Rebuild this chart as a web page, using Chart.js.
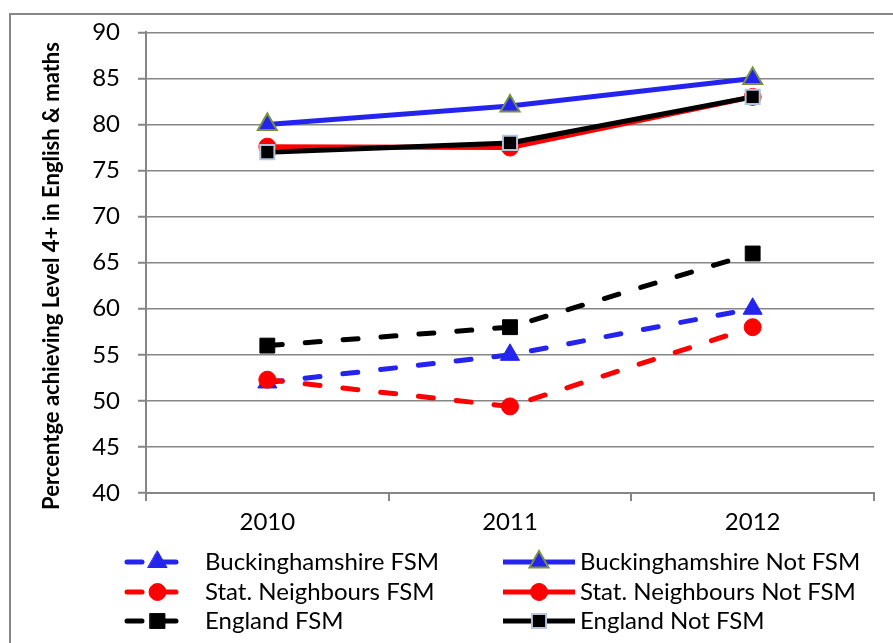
<!DOCTYPE html>
<html>
<head>
<meta charset="utf-8">
<script src="https://cdn.jsdelivr.net/npm/chart.js@4.4.0/dist/chart.umd.min.js"></script>
<style>
  html, body { margin: 0; padding: 0; background: #fff; }
  #wrap { width: 893px; height: 643px; }
</style>
</head>
<body>
<div id="wrap"><canvas id="chart" width="893" height="643"></canvas></div>
<script>
const years = ['2010', '2011', '2012'];
const bucksFsm = [52, 55, 60];
const bucksNotFsm = [80, 82, 85];
const statFsm = [52.3, 49.4, 58];
const statNotFsm = [77.6, 77.5, 83];
const englandFsm = [56, 58, 66];
const englandNotFsm = [77, 78, 83];
const yMin = 40, yMax = 90, yStep = 5;
const yTitle = 'Percentge achieving Level 4+ in English & maths';

const FONT = 'Lato';
const GREY = '#868686';
const BLUE = '#2424EE';
const RED = '#FF0000';
const BLACK = '#000000';

// one line series, dashed for the FSM groups
const series = (label, data, color, dashed, pointStyle, radius, ring, order) => ({
  label, data, order,
  borderColor: color,
  backgroundColor: color,
  borderWidth: 5,
  borderDash: dashed ? [15, 23] : [],
  borderCapStyle: dashed ? 'round' : 'butt',
  borderJoinStyle: 'round',
  tension: 0,
  pointStyle,
  pointRadius: radius,
  pointHoverRadius: radius,
  pointBackgroundColor: color,
  pointBorderColor: ring || color,
  pointBorderWidth: ring ? 2 : 1,
  clip: false
});

const datasets = [
  series('Buckinghamshire FSM', bucksFsm, BLUE, true, 'triangle', 11, null, 6),
  series('Buckinghamshire Not FSM', bucksNotFsm, BLUE, false, 'triangle', 11, '#77933C', 5),
  series('Stat. Neighbours FSM', statFsm, RED, true, 'circle', 8.5, null, 4),
  series('Stat. Neighbours Not FSM', statNotFsm, RED, false, 'circle', 8.5, null, 3),
  series('England FSM', englandFsm, BLACK, true, 'rect', 10.5, null, 2),
  series('England Not FSM', englandNotFsm, BLACK, false, 'rect', 10, '#B4C4DC', 1)
];

// frame, rotated axis title and the two-column legend
const decor = {
  id: 'decor',
  beforeDraw(chart) {
    const ctx = chart.ctx;
    ctx.save();
    ctx.strokeStyle = GREY;
    ctx.lineWidth = 2;
    ctx.beginPath();
    ctx.moveTo(10, 643);
    ctx.lineTo(10, 14);
    ctx.lineTo(893, 14);
    ctx.stroke();
    ctx.restore();
  },
  afterDraw(chart) {
    const ctx = chart.ctx;
    ctx.save();
    ctx.translate(52, 276);
    ctx.rotate(-Math.PI / 2);
    ctx.fillStyle = '#000';
    ctx.font = 'bold 22px ' + FONT;
    ctx.textAlign = 'center';
    ctx.textBaseline = 'middle';
    ctx.fillText(yTitle, 0, 0);
    ctx.restore();

    const cols = [{ x: 127, w: 61, tx: 205 }, { x: 503, w: 72, tx: 580 }];
    const rows = [562, 592, 621];
    chart.data.datasets.forEach((ds, i) => {
      const c = cols[i % 2], y = rows[Math.floor(i / 2)];
      ctx.save();
      ctx.strokeStyle = ds.borderColor;
      ctx.lineWidth = ds.borderWidth;
      ctx.lineCap = ds.borderCapStyle;
      ctx.setLineDash(ds.borderDash.length ? [15, 19] : []);
      ctx.beginPath();
      ctx.moveTo(c.x, y);
      ctx.lineTo(c.x + c.w, y);
      ctx.stroke();
      ctx.setLineDash([]);
      ctx.fillStyle = ds.pointBackgroundColor;
      ctx.strokeStyle = ds.pointBorderColor;
      ctx.lineWidth = ds.pointBorderWidth;
      Chart.helpers.drawPoint(ctx, {
        pointStyle: ds.pointStyle, radius: ds.pointRadius,
        borderWidth: ds.pointBorderWidth, rotation: 0
      }, c.x + c.w / 2, y);
      ctx.fillStyle = '#000';
      ctx.font = '24px ' + FONT;
      ctx.textBaseline = 'middle';
      ctx.textAlign = 'left';
      ctx.fillText(ds.label, c.tx, y);
      ctx.restore();
    });
  }
};

function draw() {
  new Chart(document.getElementById('chart'), {
    type: 'line',
    data: { labels: years, datasets },
    options: {
      responsive: false,
      animation: false,
      devicePixelRatio: 1,
      layout: { padding: { top: 32, right: 19, bottom: 100, left: 0 } },
      plugins: { legend: { display: false }, tooltip: { enabled: false } },
      scales: {
        x: {
          offset: true,
          grid: { offset: true, drawOnChartArea: false, drawTicks: true, tickLength: 8, color: GREY, lineWidth: 2 },
          border: { color: GREY, width: 2 },
          ticks: { color: '#000', font: { family: FONT, size: 24 }, padding: 7 },
          afterFit: s => { s.height = 50; }
        },
        y: {
          min: yMin,
          max: yMax,
          ticks: { stepSize: yStep, color: '#000', font: { family: FONT, size: 24 }, padding: 18 },
          grid: { color: GREY, lineWidth: 1.5, borderDash: [2, 2.5], tickLength: 8, tickColor: GREY, tickWidth: 2, tickBorderDash: [] },
          border: { color: GREY, width: 2 },
          afterFit: s => { s.width = 146; }
        }
      }
    },
    plugins: [decor]
  });
}

if (document.fonts && document.fonts.load) {
  Promise.all([document.fonts.load('24px Lato'), document.fonts.load('bold 22px Lato')])
    .then(draw, draw);
} else {
  draw();
}
</script>
</body>
</html>
